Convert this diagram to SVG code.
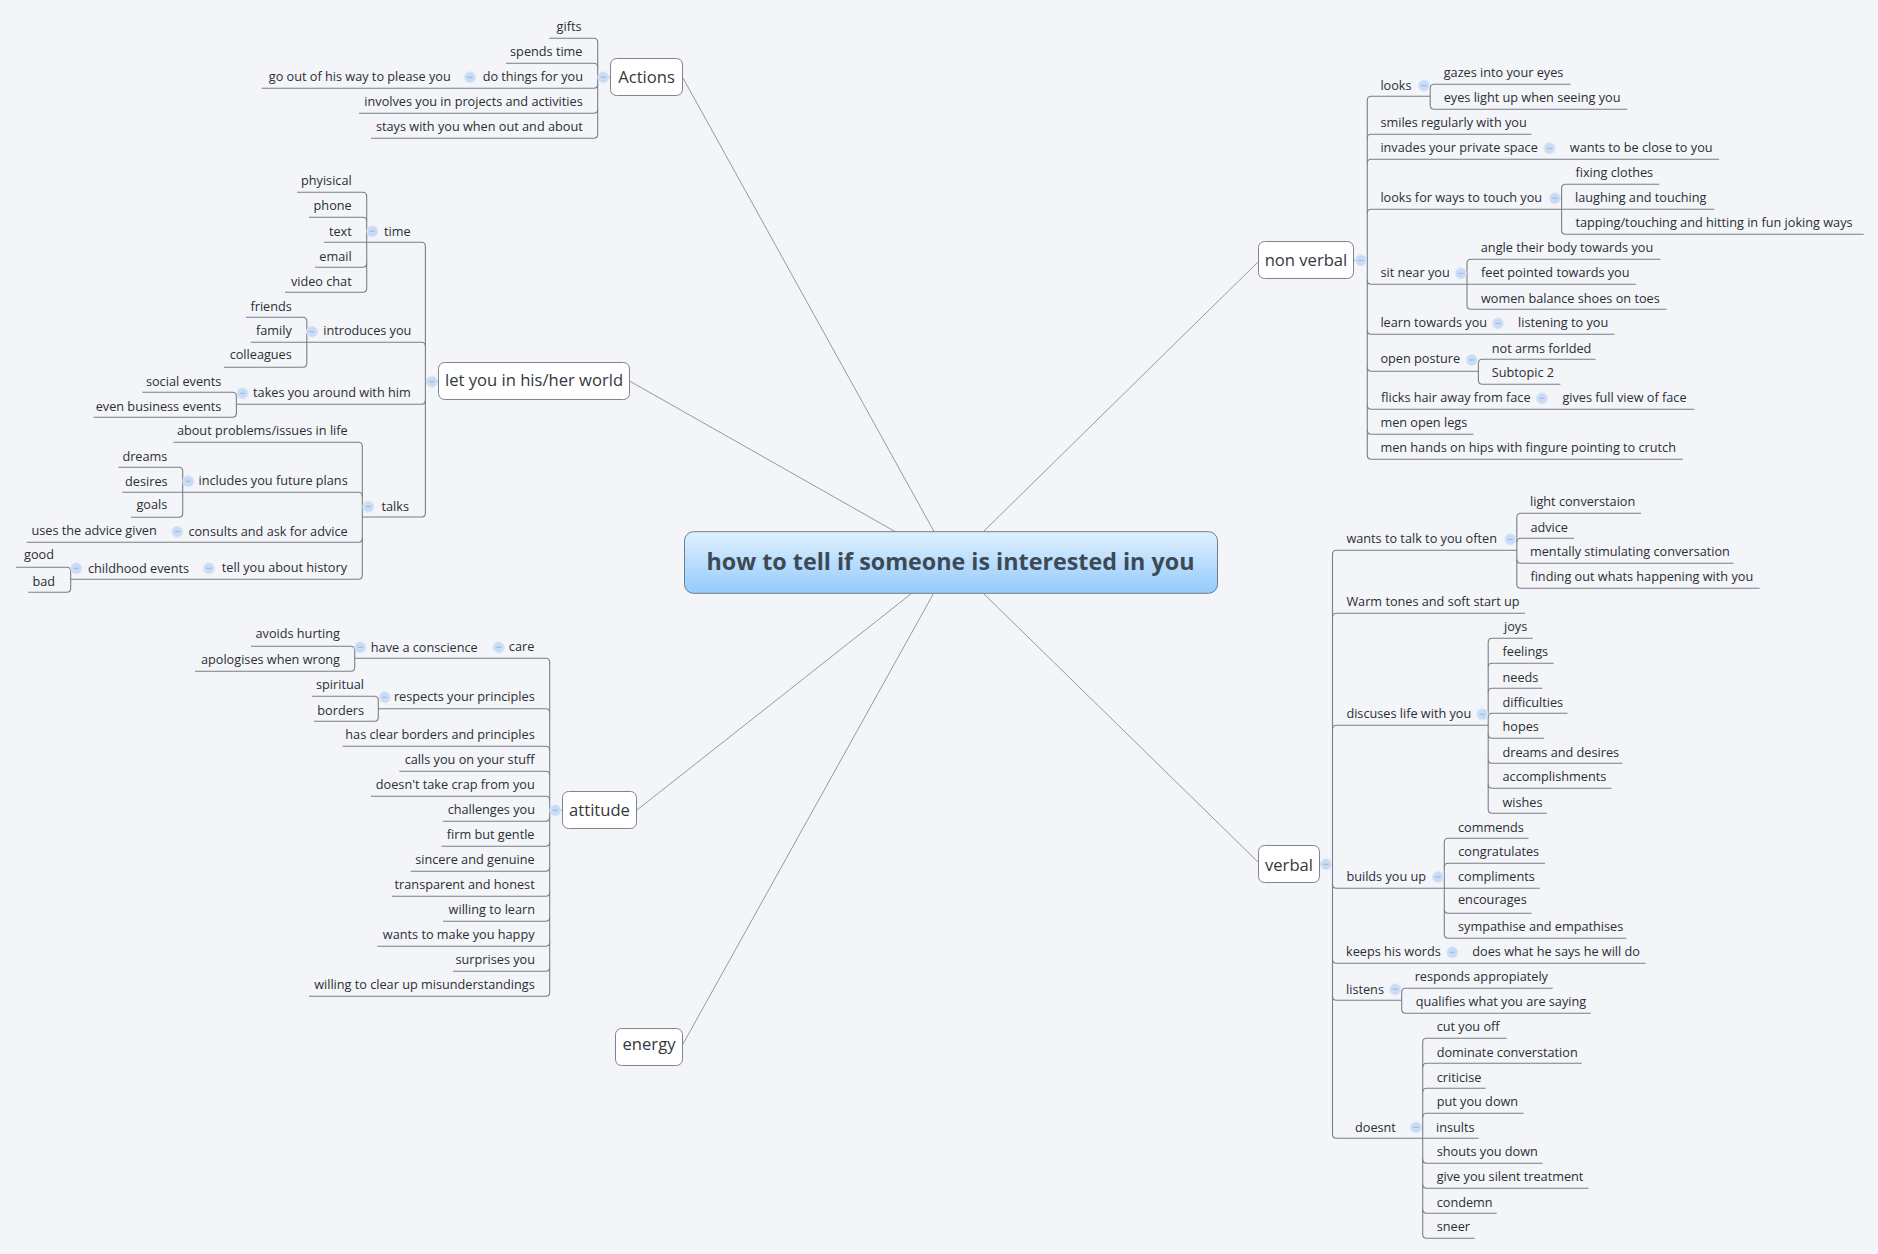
<svg xmlns="http://www.w3.org/2000/svg" width="1878" height="1254" viewBox="0 0 1878 1254">
<defs>
<linearGradient id="rootFill" x1="0" y1="0" x2="0" y2="1"><stop offset="0" stop-color="#dff0fe"/><stop offset="1" stop-color="#95cbfb"/></linearGradient>
<g id="minus"><circle r="5.5" fill="#c9dcf5" stroke="#dbe7f7" stroke-width="1"/><path d="M-2.5 0H2.5" stroke="#9ab4d8" stroke-width="1"/></g>
</defs>
<style>
text{font-family:"Open Sans","Noto Sans","Liberation Sans",sans-serif;font-size:12.7px;fill:#2a2e33}
.e{text-anchor:end}
.b{font-size:16.6px;fill:#33383d}
.rt{font-size:23.3px;font-weight:700;fill:#3d4a55}
.box{fill:#fff;stroke:#7e838c;stroke-width:1}
#connectors path{fill:none;stroke:#7a7f88;stroke-width:1.1}
#connectors path.m{stroke:#8b9096;stroke-width:.9}
</style>
<rect width="1878" height="1254" fill="#f3f5f9"/>
<g id="connectors">
<path class="m" d="M683 78L934 531.5"/>
<path class="m" d="M629.5 381L895 531.5"/>
<path class="m" d="M1258 262L983.5 531.5"/>
<path class="m" d="M637 810L911.5 593.5"/>
<path class="m" d="M683 1044L933.5 593.5"/>
<path class="m" d="M1258 862L983.5 593.5"/>
<!-- actions -->
<path class="m" d="M610 77.3H597.7"/>
<path d="M549.3 38.3H593.7Q597.7 38.3 597.7 42.3V134.3Q597.7 138.3 593.7 138.3H371"/>
<path d="M506 63.3H593.7Q597.7 63.3 597.7 67.3"/>
<path d="M261.7 88.3H593.7Q597.7 88.3 597.7 84.3"/>
<path d="M359 113.3H593.7Q597.7 113.3 597.7 109.3"/>
<!-- let you -->
<path class="m" d="M438 381.7H425.4"/>
<path d="M366.7 242.3H421.4Q425.4 242.3 425.4 246.3V513Q425.4 517 421.4 517H362.3"/>
<path d="M306.8 342.3H421.4Q425.4 342.3 425.4 346.3"/>
<path d="M236.4 404.3H421.4Q425.4 404.3 425.4 400.3"/>
<path d="M297.3 192.3H362.7Q366.7 192.3 366.7 196.3V288.3Q366.7 292.3 362.7 292.3H285"/>
<path d="M309 217.3H362.7Q366.7 217.3 366.7 221.3"/>
<path d="M324 242.3H366.7"/>
<path d="M315 267.3H362.7Q366.7 267.3 366.7 263.3"/>
<path d="M246 317.3H302.8Q306.8 317.3 306.8 321.3V363.3Q306.8 367.3 302.8 367.3H224"/>
<path d="M250.7 342.3H306.8"/>
<path d="M142.5 392.3H232.4Q236.4 392.3 236.4 396.3V413.3Q236.4 417.3 232.4 417.3H93.6"/>
<path d="M173.3 442.3H358.3Q362.3 442.3 362.3 446.3V575.3Q362.3 579.3 358.3 579.3H70.7"/>
<path d="M182.7 492.3H358.3Q362.3 492.3 362.3 496.3"/>
<path d="M26.7 542.3H358.3Q362.3 542.3 362.3 538.3"/>
<path d="M118.3 467.3H178.7Q182.7 467.3 182.7 471.3V513.3Q182.7 517.3 178.7 517.3H131"/>
<path d="M122.3 492.3H182.7"/>
<path d="M16 567.3H66.7Q70.7 567.3 70.7 571.3V588.3Q70.7 592.3 66.7 592.3H28.3"/>
<!-- attitude -->
<path class="m" d="M562 810.3H549.7"/>
<path d="M354.7 658.3H545.7Q549.7 658.3 549.7 662.3V992.3Q549.7 996.3 545.7 996.3H309"/>
<path d="M378.3 708.7H545.7Q549.7 708.7 549.7 712.7"/>
<path d="M342.7 746.3H545.7Q549.7 746.3 549.7 750.3"/>
<path d="M399.3 771.3H545.7Q549.7 771.3 549.7 775.3"/>
<path d="M371 796.3H545.7Q549.7 796.3 549.7 800.3"/>
<path d="M442.7 821.3H545.7Q549.7 821.3 549.7 817.3"/>
<path d="M441.3 846.3H545.7Q549.7 846.3 549.7 842.3"/>
<path d="M410.7 871.3H545.7Q549.7 871.3 549.7 867.3"/>
<path d="M392 896.3H545.7Q549.7 896.3 549.7 892.3"/>
<path d="M443 921.3H545.7Q549.7 921.3 549.7 917.3"/>
<path d="M377.3 946.3H545.7Q549.7 946.3 549.7 942.3"/>
<path d="M453 971.3H545.7Q549.7 971.3 549.7 967.3"/>
<path d="M251 646.3H350.7Q354.7 646.3 354.7 650.3V667.3Q354.7 671.3 350.7 671.3H195"/>
<path d="M312 696.3H374.3Q378.3 696.3 378.3 700.3V717.3Q378.3 721.3 374.3 721.3H314"/>
<!-- non verbal -->
<path class="m" d="M1354 260.3H1367.3"/>
<path d="M1430.2 96.3H1371.3Q1367.3 96.3 1367.3 100.3V455.3Q1367.3 459.3 1371.3 459.3H1682.9"/>
<path d="M1531.4 134.3H1371.3Q1367.3 134.3 1367.3 138.3"/>
<path d="M1719.2 159.3H1371.3Q1367.3 159.3 1367.3 163.3"/>
<path d="M1561.6 209.3H1371.3Q1367.3 209.3 1367.3 213.3"/>
<path d="M1467 284.3H1371.3Q1367.3 284.3 1367.3 280.3"/>
<path d="M1614.7 334.3H1371.3Q1367.3 334.3 1367.3 330.3"/>
<path d="M1478.4 371.3H1371.3Q1367.3 371.3 1367.3 367.3"/>
<path d="M1694.3 409.3H1371.3Q1367.3 409.3 1367.3 405.3"/>
<path d="M1473.5 434.3H1371.3Q1367.3 434.3 1367.3 430.3"/>
<path d="M1570.6 84.3H1434.2Q1430.2 84.3 1430.2 88.3V105.3Q1430.2 109.3 1434.2 109.3H1627.3"/>
<path d="M1659.2 184.3H1565.6Q1561.6 184.3 1561.6 188.3V230.3Q1561.6 234.3 1565.6 234.3H1863.7"/>
<path d="M1714.3 209.3H1561.6"/>
<path d="M1660.4 259.3H1471Q1467 259.3 1467 263.3V305.3Q1467 309.3 1471 309.3H1666.5"/>
<path d="M1635.9 284.3H1467"/>
<path d="M1595.5 359.3H1482.4Q1478.4 359.3 1478.4 363.3V380.3Q1478.4 384.3 1482.4 384.3H1560.4"/>
<!-- verbal -->
<path class="m" d="M1320 864.3H1332.5"/>
<path d="M1516.8 550.3H1336.5Q1332.5 550.3 1332.5 554.3V1134.3Q1332.5 1138.3 1336.5 1138.3H1422.7"/>
<path d="M1525 613.3H1336.5Q1332.5 613.3 1332.5 617.3"/>
<path d="M1488.2 725.3H1336.5Q1332.5 725.3 1332.5 729.3"/>
<path d="M1444.3 888.3H1336.5Q1332.5 888.3 1332.5 884.3"/>
<path d="M1645.7 963.3H1336.5Q1332.5 963.3 1332.5 959.3"/>
<path d="M1401.7 1000.3H1336.5Q1332.5 1000.3 1332.5 996.3"/>
<path d="M1641 513.3H1520.8Q1516.8 513.3 1516.8 517.3V584.3Q1516.8 588.3 1520.8 588.3H1759.6"/>
<path d="M1574 538.3H1520.8Q1516.8 538.3 1516.8 542.3"/>
<path d="M1733.6 563.3H1520.8Q1516.8 563.3 1516.8 559.3"/>
<path d="M1532.9 638.3H1492.2Q1488.2 638.3 1488.2 642.3V809.3Q1488.2 813.3 1492.2 813.3H1546.8"/>
<path d="M1553.6 663.3H1492.2Q1488.2 663.3 1488.2 667.3"/>
<path d="M1542.5 688.3H1492.2Q1488.2 688.3 1488.2 692.3"/>
<path d="M1567.5 713.3H1492.2Q1488.2 713.3 1488.2 717.3"/>
<path d="M1544 738.3H1492.2Q1488.2 738.3 1488.2 734.3"/>
<path d="M1622.5 763.3H1492.2Q1488.2 763.3 1488.2 759.3"/>
<path d="M1611.4 788.3H1492.2Q1488.2 788.3 1488.2 784.3"/>
<path d="M1528.6 838.3H1448.3Q1444.3 838.3 1444.3 842.3V934.3Q1444.3 938.3 1448.3 938.3H1626.3"/>
<path d="M1545 863.3H1448.3Q1444.3 863.3 1444.3 867.3"/>
<path d="M1539.7 888.3H1444.3"/>
<path d="M1531.7 913.3H1448.3Q1444.3 913.3 1444.3 909.3"/>
<path d="M1552.7 988.3H1405.7Q1401.7 988.3 1401.7 992.3V1009.3Q1401.7 1013.3 1405.7 1013.3H1590.7"/>
<path d="M1506.7 1038.3H1426.7Q1422.7 1038.3 1422.7 1042.3V1234.3Q1422.7 1238.3 1426.7 1238.3H1474.7"/>
<path d="M1581.7 1063.3H1426.7Q1422.7 1063.3 1422.7 1067.3"/>
<path d="M1485.7 1088.3H1426.7Q1422.7 1088.3 1422.7 1092.3"/>
<path d="M1523.7 1113.3H1426.7Q1422.7 1113.3 1422.7 1117.3"/>
<path d="M1478.7 1138.3H1422.7"/>
<path d="M1542.7 1163.3H1426.7Q1422.7 1163.3 1422.7 1159.3"/>
<path d="M1588.7 1188.3H1426.7Q1422.7 1188.3 1422.7 1184.3"/>
<path d="M1496.7 1213.3H1426.7Q1422.7 1213.3 1422.7 1209.3"/>
</g>
<g id="collapse-icons">
<use href="#minus" x="603.3" y="77.3"/><use href="#minus" x="470" y="77.3"/>
<use href="#minus" x="431.8" y="381.7"/><use href="#minus" x="372.3" y="231.3"/><use href="#minus" x="312" y="331.7"/><use href="#minus" x="242.5" y="393.3"/><use href="#minus" x="368.3" y="506.7"/><use href="#minus" x="188.3" y="481.3"/><use href="#minus" x="177.3" y="531.7"/><use href="#minus" x="209" y="568.3"/><use href="#minus" x="76.3" y="568.3"/>
<use href="#minus" x="555.3" y="810.3"/><use href="#minus" x="498.7" y="647.3"/><use href="#minus" x="360.3" y="647.3"/><use href="#minus" x="384.7" y="697.3"/>
<use href="#minus" x="1360.8" y="260.3"/><use href="#minus" x="1424" y="85.7"/><use href="#minus" x="1549.4" y="148.3"/><use href="#minus" x="1555" y="198.3"/><use href="#minus" x="1460.8" y="273.3"/><use href="#minus" x="1498" y="323.3"/><use href="#minus" x="1471.8" y="360"/><use href="#minus" x="1542" y="398.3"/>
<use href="#minus" x="1326" y="864.3"/><use href="#minus" x="1510.4" y="539.3"/><use href="#minus" x="1482.5" y="714.3"/><use href="#minus" x="1438" y="877"/><use href="#minus" x="1452.3" y="952.3"/><use href="#minus" x="1395.3" y="989.3"/><use href="#minus" x="1416" y="1127.3"/>
</g>
<g id="root"><rect x="684.5" y="531.7" width="533" height="61.6" rx="9" fill="url(#rootFill)" stroke="#6f7d8c"/><text class="rt" x="950.5" y="569.5" text-anchor="middle">how to tell if someone is interested in you</text></g>
<g id="actions"><rect class="box" x="610.5" y="58.5" width="72" height="37" rx="6"/><text class="b" x="646.5" y="83" text-anchor="middle">Actions</text></g>
<g id="let-you"><rect class="box" x="438.5" y="362.5" width="191" height="37" rx="6"/><text class="b" x="534" y="386" text-anchor="middle">let you in his/her world</text></g>
<g id="attitude"><rect class="box" x="562.5" y="791.5" width="74" height="37" rx="6"/><text class="b" x="599.5" y="816" text-anchor="middle">attitude</text></g>
<g id="energy"><rect class="box" x="615.5" y="1028.5" width="67" height="37" rx="6"/><text class="b" x="649" y="1050" text-anchor="middle">energy</text></g>
<g id="non-verbal"><rect class="box" x="1258.5" y="241.5" width="95" height="37" rx="6"/><text class="b" x="1306" y="266" text-anchor="middle">non verbal</text></g>
<g id="verbal"><rect class="box" x="1258.5" y="845.5" width="61" height="37" rx="6"/><text class="b" x="1289" y="870.5" text-anchor="middle">verbal</text></g>
<g id="n-actions-topics">
<g id="a1"><text class="e" x="581.5" y="30.7">gifts</text></g>
<g id="a2"><text class="e" x="582.5" y="55.7">spends time</text></g>
<g id="a3"><text class="e" x="583" y="80.7">do things for you</text></g>
<g id="a3a"><text class="e" x="450.7" y="80.7">go out of his way to please you</text></g>
<g id="a4"><text class="e" x="582.7" y="105.7">involves you in projects and activities</text></g>
<g id="a5"><text class="e" x="582.7" y="130.7">stays with you when out and about</text></g>
</g>
<g id="n-world-topics">
<g id="w1"><text class="e" x="410.7" y="235.7">time</text></g>
<g id="w1a"><text class="e" x="351.7" y="185">phyisical</text></g>
<g id="w1b"><text class="e" x="351.7" y="210">phone</text></g>
<g id="w1c"><text class="e" x="351.7" y="235.7">text</text></g>
<g id="w1d"><text class="e" x="351.7" y="261">email</text></g>
<g id="w1e"><text class="e" x="351.7" y="286">video chat</text></g>
<g id="w2"><text class="e" x="411.4" y="335">introduces you</text></g>
<g id="w2a"><text class="e" x="291.8" y="310.7">friends</text></g>
<g id="w2b"><text class="e" x="291.8" y="335">family</text></g>
<g id="w2c"><text class="e" x="291.8" y="359.3">colleagues</text></g>
<g id="w3"><text class="e" x="410.7" y="396.7">takes you around with him</text></g>
<g id="w3a"><text class="e" x="221.4" y="386">social events</text></g>
<g id="w3b"><text class="e" x="221.4" y="411">even business events</text></g>
<g id="w4"><text class="e" x="409" y="510.7">talks</text></g>
<g id="w4a"><text class="e" x="347.7" y="434.7">about problems/issues in life</text></g>
<g id="w4b"><text class="e" x="347.7" y="484.7">includes you future plans</text></g>
<g id="w4b1"><text class="e" x="167.3" y="461">dreams</text></g>
<g id="w4b2"><text class="e" x="167.6" y="486">desires</text></g>
<g id="w4b3"><text class="e" x="167.3" y="509.3">goals</text></g>
<g id="w4c"><text class="e" x="347.7" y="536">consults and ask for advice</text></g>
<g id="w4c1"><text class="e" x="156.7" y="534.7">uses the advice given</text></g>
<g id="w4d"><text class="e" x="347" y="571.7">tell you about history</text></g>
<g id="w4d1"><text class="e" x="189" y="573">childhood events</text></g>
<g id="w4d2"><text class="e" x="54" y="559.3">good</text></g>
<g id="w4d3"><text class="e" x="55" y="585.7">bad</text></g>
</g>
<g id="n-attitude-topics">
<g id="t1"><text class="e" x="534.3" y="650.7">care</text></g>
<g id="t1a"><text class="e" x="477.7" y="652">have a conscience</text></g>
<g id="t1b"><text class="e" x="340" y="638.3">avoids hurting</text></g>
<g id="t1c"><text class="e" x="340" y="663.7">apologises when wrong</text></g>
<g id="t2"><text class="e" x="534.7" y="700.7">respects your principles</text></g>
<g id="t2a"><text class="e" x="364" y="688.7">spiritual</text></g>
<g id="t2b"><text class="e" x="364" y="715">borders</text></g>
<g id="t3"><text class="e" x="534.7" y="738.7">has clear borders and principles</text></g>
<g id="t4"><text class="e" x="534.5" y="763.7">calls you on your stuff</text></g>
<g id="t5"><text class="e" x="534.7" y="788.7">doesn't take crap from you</text></g>
<g id="t6"><text class="e" x="535" y="813.7">challenges you</text></g>
<g id="t7"><text class="e" x="534.5" y="838.7">firm but gentle</text></g>
<g id="t8"><text class="e" x="534.7" y="863.7">sincere and genuine</text></g>
<g id="t9"><text class="e" x="534.7" y="888.7">transparent and honest</text></g>
<g id="t10"><text class="e" x="535" y="913.7">willing to learn</text></g>
<g id="t11"><text class="e" x="534.5" y="938.7">wants to make you happy</text></g>
<g id="t12"><text class="e" x="535" y="963.7">surprises you</text></g>
<g id="t13"><text class="e" x="534.7" y="988.7">willing to clear up misunderstandings</text></g>
</g>
<g id="n-nonverbal-topics">
<g id="nv1"><text x="1380.4" y="89.7">looks</text></g>
<g id="nv1a"><text x="1443.7" y="76.7">gazes into your eyes</text></g>
<g id="nv1b"><text x="1443.7" y="101.7">eyes light up when seeing you</text></g>
<g id="nv2"><text x="1380.4" y="126.7">smiles regularly with you</text></g>
<g id="nv3"><text x="1380.4" y="151.7">invades your private space</text></g>
<g id="nv3a"><text x="1569.8" y="151.7">wants to be close to you</text></g>
<g id="nv4"><text x="1380.4" y="201.7">looks for ways to touch you</text></g>
<g id="nv4a"><text x="1575.5" y="176.7">fixing clothes</text></g>
<g id="nv4b"><text x="1575" y="201.7">laughing and touching</text></g>
<g id="nv4c"><text x="1575.5" y="226.7">tapping/touching and hitting in fun joking ways</text></g>
<g id="nv5"><text x="1380.4" y="276.7">sit near you</text></g>
<g id="nv5a"><text x="1480.8" y="251.7">angle their body towards you</text></g>
<g id="nv5b"><text x="1481" y="276.7">feet pointed towards you</text></g>
<g id="nv5c"><text x="1481" y="302.7">women balance shoes on toes</text></g>
<g id="nv6"><text x="1380.4" y="326.7">learn towards you</text></g>
<g id="nv6a"><text x="1518" y="326.7">listening to you</text></g>
<g id="nv7"><text x="1380.4" y="363.3">open posture</text></g>
<g id="nv7a"><text x="1491.8" y="352.7">not arms forlded</text></g>
<g id="nv7b"><text x="1491.8" y="376.7">Subtopic 2</text></g>
<g id="nv8"><text x="1381" y="401.7">flicks hair away from face</text></g>
<g id="nv8a"><text x="1562.4" y="401.7">gives full view of face</text></g>
<g id="nv9"><text x="1380.4" y="426.7">men open legs</text></g>
<g id="nv10"><text x="1380.4" y="451.7">men hands on hips with fingure pointing to crutch</text></g>
</g>
<g id="n-verbal-topics">
<g id="v1"><text x="1346.4" y="542.7">wants to talk to you often</text></g>
<g id="v1a"><text x="1530" y="506">light converstaion</text></g>
<g id="v1b"><text x="1530.4" y="531.7">advice</text></g>
<g id="v1c"><text x="1530" y="556">mentally stimulating conversation</text></g>
<g id="v1d"><text x="1530.4" y="581">finding out whats happening with you</text></g>
<g id="v2"><text x="1346.4" y="606">Warm tones and soft start up</text></g>
<g id="v3"><text x="1346.4" y="717.7">discuses life with you</text></g>
<g id="v3a"><text x="1504" y="631">joys</text></g>
<g id="v3b"><text x="1502.5" y="656">feelings</text></g>
<g id="v3c"><text x="1502.5" y="682">needs</text></g>
<g id="v3d"><text x="1502.5" y="707">difficulties</text></g>
<g id="v3e"><text x="1502.5" y="730.7">hopes</text></g>
<g id="v3f"><text x="1502.5" y="757">dreams and desires</text></g>
<g id="v3g"><text x="1502.5" y="781">accomplishments</text></g>
<g id="v3h"><text x="1502.5" y="807">wishes</text></g>
<g id="v4"><text x="1346.4" y="880.7">builds you up</text></g>
<g id="v4a"><text x="1458" y="832.3">commends</text></g>
<g id="v4b"><text x="1458.3" y="855.7">congratulates</text></g>
<g id="v4c"><text x="1458" y="880.7">compliments</text></g>
<g id="v4d"><text x="1458" y="904">encourages</text></g>
<g id="v4e"><text x="1458" y="930.7">sympathise and empathises</text></g>
<g id="v5"><text x="1346" y="955.7">keeps his words</text></g>
<g id="v5a"><text x="1472.3" y="955.7">does what he says he will do</text></g>
<g id="v6"><text x="1346" y="994">listens</text></g>
<g id="v6a"><text x="1414.7" y="980.7">responds appropiately</text></g>
<g id="v6b"><text x="1415.7" y="1005.7">qualifies what you are saying</text></g>
<g id="v7"><text x="1355" y="1132">doesnt</text></g>
<g id="v7a"><text x="1436.7" y="1030.7">cut you off</text></g>
<g id="v7b"><text x="1436.7" y="1057">dominate converstation</text></g>
<g id="v7c"><text x="1436.7" y="1082">criticise</text></g>
<g id="v7d"><text x="1436.7" y="1105.7">put you down</text></g>
<g id="v7e"><text x="1436" y="1132">insults</text></g>
<g id="v7f"><text x="1436.7" y="1155.7">shouts you down</text></g>
<g id="v7g"><text x="1436.7" y="1180.7">give you silent treatment</text></g>
<g id="v7h"><text x="1436.7" y="1207">condemn</text></g>
<g id="v7i"><text x="1436.7" y="1230.7">sneer</text></g>
</g>
</svg>
